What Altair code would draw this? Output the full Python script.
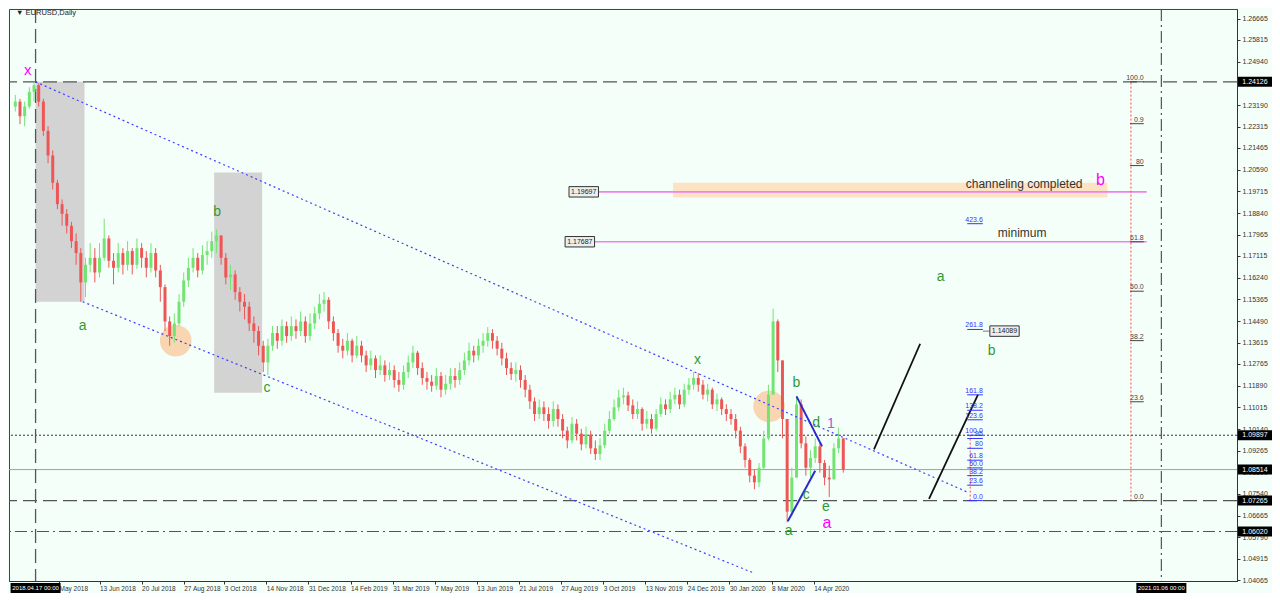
import altair as alt
import pandas as pd

# ---------------- candle data (one candle = 3 trading days, index in bars from 2018.04.17) -------------
first_open = 1.2313
close = [1.2333, 1.2274, 1.2313, 1.2372, 1.2399, 1.2333, 1.2215, 1.2116, 1.2006, 1.1920,
         1.1881, 1.1833, 1.1771, 1.1723, 1.1605, 1.1676, 1.1704, 1.1645, 1.1704, 1.1782,
         1.1692, 1.1664, 1.1723, 1.1676, 1.1731, 1.1676, 1.1743, 1.1704, 1.1664, 1.1723,
         1.1653, 1.1586, 1.1448, 1.1389, 1.1440, 1.1527, 1.1613, 1.1664, 1.1704, 1.1653,
         1.1715, 1.1731, 1.1771, 1.1794, 1.1704, 1.1625, 1.1637, 1.1566, 1.1527, 1.1507,
         1.1440, 1.1409, 1.1350, 1.1283, 1.1350, 1.1401, 1.1370, 1.1429, 1.1389, 1.1429,
         1.1409, 1.1448, 1.1389, 1.1440, 1.1480, 1.1519, 1.1535, 1.1448, 1.1401, 1.1350,
         1.1330, 1.1370, 1.1311, 1.1350, 1.1311, 1.1271, 1.1299, 1.1252, 1.1271, 1.1232,
         1.1252, 1.1212, 1.1193, 1.1244, 1.1283, 1.1322, 1.1260, 1.1220, 1.1205, 1.1189,
         1.1228, 1.1173, 1.1197, 1.1228, 1.1212, 1.1252, 1.1291, 1.1330, 1.1311, 1.1350,
         1.1370, 1.1401, 1.1370, 1.1338, 1.1299, 1.1260, 1.1236, 1.1252, 1.1212, 1.1173,
         1.1126, 1.1075, 1.1102, 1.1075, 1.1047, 1.1095, 1.1055, 1.1008, 1.0969, 1.1036,
         1.0996, 1.0953, 1.0992, 1.0937, 1.0914, 1.0949, 1.1008, 1.1055, 1.1102, 1.1142,
         1.1150, 1.1110, 1.1075, 1.1095, 1.1036, 1.1055, 1.1016, 1.1075, 1.1114, 1.1095,
         1.1134, 1.1153, 1.1114, 1.1173, 1.1193, 1.1220, 1.1193, 1.1153, 1.1173, 1.1114,
         1.1134, 1.1095, 1.1075, 1.1055, 1.1008, 1.0945, 1.0890, 1.0827, 1.0800, 1.0859,
         1.0977, 1.1153, 1.1448, 1.1291, 1.1055, 1.0682, 1.0819, 1.1114, 1.0957, 1.0859,
         1.0898, 1.0945, 1.0878, 1.0819, 1.0812, 1.0937, 1.0977, 1.0851]
high = [1.2360, 1.2344, 1.2333, 1.2391, 1.2413, 1.2407, 1.2344, 1.2234, 1.2136, 1.2018,
        1.1939, 1.1900, 1.1849, 1.1802, 1.1743, 1.1704, 1.1763, 1.1743, 1.1763, 1.1861,
        1.1794, 1.1723, 1.1763, 1.1743, 1.1771, 1.1743, 1.1782, 1.1763, 1.1731, 1.1763,
        1.1743, 1.1676, 1.1597, 1.1468, 1.1480, 1.1558, 1.1645, 1.1704, 1.1743, 1.1723,
        1.1755, 1.1771, 1.1810, 1.1818, 1.1782, 1.1723, 1.1676, 1.1653, 1.1586, 1.1558,
        1.1527, 1.1468, 1.1429, 1.1370, 1.1378, 1.1429, 1.1429, 1.1456, 1.1448, 1.1468,
        1.1456, 1.1488, 1.1468, 1.1480, 1.1507, 1.1558, 1.1566, 1.1546, 1.1468, 1.1417,
        1.1378, 1.1401, 1.1378, 1.1389, 1.1370, 1.1330, 1.1330, 1.1311, 1.1311, 1.1291,
        1.1283, 1.1271, 1.1244, 1.1271, 1.1311, 1.1350, 1.1330, 1.1283, 1.1244, 1.1232,
        1.1260, 1.1244, 1.1232, 1.1260, 1.1260, 1.1283, 1.1322, 1.1362, 1.1350, 1.1378,
        1.1401, 1.1425, 1.1417, 1.1389, 1.1362, 1.1322, 1.1283, 1.1283, 1.1271, 1.1232,
        1.1193, 1.1142, 1.1134, 1.1126, 1.1102, 1.1126, 1.1114, 1.1075, 1.1024, 1.1063,
        1.1055, 1.1016, 1.1024, 1.1008, 1.0969, 1.0977, 1.1036, 1.1087, 1.1134, 1.1173,
        1.1181, 1.1165, 1.1134, 1.1126, 1.1102, 1.1087, 1.1075, 1.1095, 1.1142, 1.1134,
        1.1165, 1.1181, 1.1173, 1.1197, 1.1220, 1.1244, 1.1240, 1.1212, 1.1197, 1.1181,
        1.1157, 1.1142, 1.1114, 1.1095, 1.1075, 1.1024, 1.0957, 1.0898, 1.0851, 1.0878,
        1.1008, 1.1193, 1.1499, 1.1456, 1.1291, 1.1055, 1.0859, 1.1146, 1.1134, 1.0985,
        1.0929, 1.0977, 1.0957, 1.0890, 1.0867, 1.0957, 1.1020, 1.0977]
low = [1.2293, 1.2242, 1.2234, 1.2305, 1.2333, 1.2313, 1.2195, 1.2085, 1.1979, 1.1900,
       1.1833, 1.1802, 1.1743, 1.1676, 1.1527, 1.1546, 1.1645, 1.1605, 1.1625, 1.1692,
       1.1664, 1.1597, 1.1645, 1.1637, 1.1653, 1.1637, 1.1660, 1.1664, 1.1625, 1.1645,
       1.1625, 1.1527, 1.1409, 1.1350, 1.1362, 1.1429, 1.1507, 1.1586, 1.1645, 1.1625,
       1.1637, 1.1676, 1.1704, 1.1723, 1.1676, 1.1597, 1.1574, 1.1535, 1.1488, 1.1456,
       1.1409, 1.1362, 1.1311, 1.1244, 1.1232, 1.1330, 1.1338, 1.1350, 1.1362, 1.1370,
       1.1378, 1.1389, 1.1362, 1.1370, 1.1417, 1.1456, 1.1488, 1.1417, 1.1370, 1.1322,
       1.1299, 1.1311, 1.1283, 1.1299, 1.1283, 1.1244, 1.1252, 1.1220, 1.1232, 1.1205,
       1.1212, 1.1181, 1.1165, 1.1173, 1.1220, 1.1260, 1.1232, 1.1193, 1.1173, 1.1165,
       1.1173, 1.1142, 1.1153, 1.1173, 1.1181, 1.1193, 1.1232, 1.1271, 1.1283, 1.1291,
       1.1322, 1.1346, 1.1338, 1.1311, 1.1271, 1.1232, 1.1212, 1.1205, 1.1181, 1.1142,
       1.1095, 1.1047, 1.1055, 1.1047, 1.1016, 1.1024, 1.1024, 1.0977, 1.0937, 1.0957,
       1.0969, 1.0929, 1.0937, 1.0914, 1.0890, 1.0890, 1.0937, 1.0996, 1.1047, 1.1087,
       1.1114, 1.1087, 1.1055, 1.1055, 1.1008, 1.1016, 1.0996, 1.1008, 1.1063, 1.1071,
       1.1079, 1.1114, 1.1095, 1.1102, 1.1153, 1.1173, 1.1165, 1.1134, 1.1126, 1.1095,
       1.1087, 1.1071, 1.1047, 1.1032, 1.0977, 1.0918, 1.0859, 1.0800, 1.0772, 1.0780,
       1.0851, 1.0969, 1.1153, 1.1244, 1.0977, 1.0639, 1.0662, 1.0819, 1.0937, 1.0827,
       1.0819, 1.0878, 1.0839, 1.0788, 1.0741, 1.0812, 1.0918, 1.0839]
bar_first = -13
bar_step = 3

# ---------------- axes ----------------
y_ticks = [1.26665, 1.25815, 1.24940, 1.24065, 1.23190, 1.22315, 1.21465, 1.20590, 1.19715,
           1.18840, 1.17965, 1.17115, 1.16240, 1.15365, 1.14490, 1.13615, 1.12765, 1.11890,
           1.11015, 1.10140, 1.09265, 1.08390, 1.07540, 1.06665, 1.05790, 1.04915, 1.04065]
x_tick_bars = [15, 41, 68, 95, 121, 148, 175, 202, 229, 256, 283, 310, 337, 364, 391, 418, 445, 472, 499]
x_tick_labels = ["May 2018", "13 Jun 2018", "20 Jul 2018", "27 Aug 2018", "3 Oct 2018", "14 Nov 2018",
                 "31 Dec 2018", "14 Feb 2019", "31 Mar 2019", "7 May 2019", "13 Jun 2019", "21 Jul 2019",
                 "27 Aug 2019", "3 Oct 2019", "13 Nov 2019", "24 Dec 2019", "30 Jan 2020", "8 Mar 2020",
                 "14 Apr 2020"]
x_domain = [-13.84, 767.3]
y_domain = [1.04028, 1.27058]

# highlighted price labels on the axis
hl_prices = [1.24126, 1.09897, 1.08514, 1.07265, 1.06020]
# highlighted dates on the time axis
hl_date_bars = [0, 722]
hl_date_labels = ["2018.04.17 00:00", "2021.01.06 00:00"]

# ---------------- drawn objects ----------------
level_dashed = [1.24126, 1.07265]
level_dashdot = [1.06020]
level_dotted = [1.09897]
level_solid = [1.08514]
vline_dashed = [0]
vline_dashdot = [722]

gray_t0 = [0, 114.5]
gray_t1 = [31.4, 145.3]
gray_p0 = [1.24126, 1.2048]
gray_p1 = [1.1527, 1.1161]

peach_t0 = [408.8]
peach_t1 = [687.4]
peach_p0 = [1.2006]
peach_p1 = [1.1947]

circle_t = [89.9, 470.4]
circle_p = [1.1370, 1.1106]

channel_id = ["upper", "upper", "lower", "lower"]
channel_t = [0, 597.5, 30.2, 461.0]
channel_p = [1.24126, 1.0761, 1.1527, 1.0434]

wave_id = ["bd", "bd", "ac", "ac"]
wave_t = [488.0, 504.4, 482.4, 500.0]
wave_p = [1.1146, 1.0945, 1.0643, 1.0847]

proj_id = ["p1", "p1", "p2", "p2"]
proj_t = [537.7, 567.3, 573.0, 604.4]
proj_p = [1.0933, 1.1358, 1.0733, 1.1153]

mag_t0 = [361.0, 358.5]
mag_t1 = [712.6, 712.6]
mag_p = [1.19697, 1.17687]

pbox_text = ["1.19697", "1.17687", "1.14089"]
pbox_t0 = [342.1, 339.6, 612.0]
pbox_t1 = [361.0, 358.5, 630.8]
pbox_p = [1.19697, 1.17687, 1.14089]

# Fibonacci retracement (grey labels)
fib_lo, fib_hi = 1.07265, 1.24126
fib_levels = [0, 23.6, 38.2, 50, 61.8, 80, 90, 100]
fib_labels = ["0.0", "23.6", "38.2", "50.0", "61.8", "80", "0.9", "100.0"]
fib_t0, fib_t1, fib_vline_t = 701.9, 710.7, 702.5

# Fibonacci expansion (blue labels)
fe_lo, fe_hi = 1.07265, 1.09897
fe_levels = [0, 23.6, 38.2, 50, 61.8, 80, 95, 100, 123.6, 138.2, 161.8, 261.8, 423.6]
fe_labels = ["0.0", "23.6", "38.2", "50.0", "61.8", "80", "95", "100.0", "123.6", "138.2", "161.8",
             "261.8", "423.6"]
fe_t0, fe_t1, fe_vline_t = 597.5, 607.5, 599.4

# wave labels
lab_text = ["x", "a", "b", "c", "x", "b", "d", "c", "e", "a", "1", "a", "a", "b",
            "channeling completed", "b", "minimum"]
lab_t = [-5.0, 30.2, 116.4, 148.4, 424.5, 488.0, 500.6, 494.3, 506.9, 483.0, 510.0, 507.5,
         580.5, 613.2, 634.0, 683.0, 632.7]
lab_p = [1.2462, 1.1429, 1.1888, 1.1181, 1.1291, 1.1201, 1.1040, 1.0749, 1.0700, 1.0603,
         1.1036, 1.0638, 1.1625, 1.1330, 1.2002, 1.2018, 1.1802]
lab_color = ["#ff00ff", "#339933", "#339933", "#339933", "#339933", "#339933", "#339933",
             "#339933", "#339933", "#339933", "#9966cc", "#ff00ff", "#339933", "#339933",
             "#333333", "#ff00ff", "#333333"]
lab_size = [15, 14, 14, 14, 14, 14, 14, 14, 14, 14, 14, 16, 14, 14, 12, 16, 12]

# ---------------- build tables ----------------
W, H = 1228, 572
FONT = "Liberation Sans"

n = len(close)
t = [bar_first + bar_step * i for i in range(n)]
opens = [first_open] + close[:-1]
candles = pd.DataFrame({"t": t, "o": opens, "c": close, "h": high, "l": low})
candles["h"] = candles[["h", "o", "c"]].max(axis=1)
candles["l"] = candles[["l", "o", "c"]].min(axis=1)
candles["dir"] = ["up" if c >= o else "down" for o, c in zip(opens, close)]

xs = alt.Scale(domain=x_domain, nice=False, zero=False)
ys = alt.Scale(domain=y_domain, nice=False, zero=False)
label_expr = " : ".join(f"datum.value == {b} ? '{l}'" for b, l in zip(x_tick_bars, x_tick_labels)) + " : ''"
xaxis = alt.Axis(values=x_tick_bars, labelExpr=label_expr, labelAlign="left", labelFontSize=6.5,
                 labelFont=FONT, labelColor="#333333", tickSize=3, labelPadding=1, grid=False,
                 domainColor="#333333", tickColor="#333333", labelOverlap=False, labelBound=False,
                 labelFlush=False, title=None)
yaxis = alt.Axis(orient="right", values=y_ticks, format=".5f", labelFontSize=7, labelFont=FONT,
                 labelColor="#333333", tickSize=3, labelPadding=2, grid=False, domainColor="#333333",
                 tickColor="#333333", labelOverlap=False, labelBound=False, title=None)


def X(f="t"):
    return alt.X(f"{f}:Q", scale=xs, axis=xaxis)


def Y(f="p"):
    return alt.Y(f"{f}:Q", scale=ys, axis=yaxis)


layers = []

gray = pd.DataFrame({"t": gray_t0, "t2": gray_t1, "p": gray_p0, "p2": gray_p1})
layers.append(alt.Chart(gray).mark_rect(color="#d3d3d3").encode(
    x=X(), x2="t2:Q", y=Y(), y2="p2:Q"))

peach = pd.DataFrame({"t": peach_t0, "t2": peach_t1, "p": peach_p0, "p2": peach_p1})
layers.append(alt.Chart(peach).mark_rect(color="#fde2c4").encode(
    x=X(), x2="t2:Q", y=Y(), y2="p2:Q"))

circ = pd.DataFrame({"t": circle_t, "p": circle_p})
layers.append(alt.Chart(circ).mark_circle(color="#f7c08a", opacity=0.65, size=1000).encode(
    x=X(), y=Y()))


def hrules(vals, **kw):
    return alt.Chart(pd.DataFrame({"p": vals})).mark_rule(**kw).encode(y=Y())


def vrules(vals, **kw):
    return alt.Chart(pd.DataFrame({"t": vals})).mark_rule(**kw).encode(x=X())


layers.append(hrules(level_solid, color="#a0a0a0", strokeWidth=1))
layers.append(hrules(level_dashed, color="#555555", strokeWidth=1.3, strokeDash=[14, 6]))
layers.append(hrules(level_dashdot, color="#555555", strokeWidth=1.2, strokeDash=[12, 4, 2, 4]))
layers.append(hrules(level_dotted, color="#333333", strokeWidth=1, strokeDash=[2, 2]))
layers.append(vrules(vline_dashed, color="#555555", strokeWidth=1.3, strokeDash=[14, 6]))
layers.append(vrules(vline_dashdot, color="#555555", strokeWidth=1.2, strokeDash=[12, 4, 2, 4]))

color_scale = alt.Scale(domain=["up", "down"], range=["#72e472", "#ee5656"])
base_c = alt.Chart(candles)
layers.append(base_c.mark_rule(strokeWidth=1).encode(
    x=X(), y=Y("l"), y2="h:Q", color=alt.Color("dir:N", scale=color_scale, legend=None)))
layers.append(base_c.mark_bar(size=3).encode(
    x=X(), y=Y("o"), y2="c:Q", color=alt.Color("dir:N", scale=color_scale, legend=None)))

chan = pd.DataFrame({"id": channel_id, "t": channel_t, "p": channel_p})
layers.append(alt.Chart(chan).mark_line(color="#3f3fff", strokeWidth=1.2, strokeDash=[2, 3]).encode(
    x=X(), y=Y(), detail="id:N"))
wave = pd.DataFrame({"id": wave_id, "t": wave_t, "p": wave_p})
layers.append(alt.Chart(wave).mark_line(color="#2a2acc", strokeWidth=2).encode(
    x=X(), y=Y(), detail="id:N"))
proj = pd.DataFrame({"id": proj_id, "t": proj_t, "p": proj_p})
layers.append(alt.Chart(proj).mark_line(color="#111111", strokeWidth=1.8).encode(
    x=X(), y=Y(), detail="id:N"))

mag = pd.DataFrame({"t": mag_t0, "t2": mag_t1, "p": mag_p})
layers.append(alt.Chart(mag).mark_rule(color="#ee82ee", strokeWidth=1.6).encode(
    x=X(), x2="t2:Q", y=Y()))

# fib retracement
fib = pd.DataFrame({"lvl": fib_levels, "txt": fib_labels})
fib["p"] = fib_lo + fib["lvl"] / 100 * (fib_hi - fib_lo)
fib["t"] = fib_t0
fib["t2"] = fib_t1
layers.append(alt.Chart(pd.DataFrame({"t": [fib_vline_t], "p": [fib_lo], "p2": [fib_hi]}))
              .mark_rule(color="#ff4444", strokeDash=[2, 2], strokeWidth=1).encode(x=X(), y=Y(), y2="p2:Q"))
layers.append(alt.Chart(fib).mark_rule(color="#444444", strokeWidth=1).encode(x=X(), x2="t2:Q", y=Y()))
layers.append(alt.Chart(fib).mark_text(align="right", baseline="bottom", dy=-1, fontSize=7, font=FONT,
                                       color="#444444").encode(x=X("t2"), y=Y(), text="txt:N"))

# fib expansion
fe = pd.DataFrame({"lvl": fe_levels, "txt": fe_labels})
fe["p"] = fe_lo + fe["lvl"] / 100 * (fe_hi - fe_lo)
fe["t"] = fe_t0
fe["t2"] = fe_t1
layers.append(alt.Chart(pd.DataFrame({"t": [fe_vline_t], "p": [fe_lo], "p2": [fe_hi]}))
              .mark_rule(color="#ff4444", strokeDash=[2, 2], strokeWidth=1).encode(x=X(), y=Y(), y2="p2:Q"))
layers.append(alt.Chart(fe).mark_rule(color="#3333ff", strokeWidth=1).encode(x=X(), x2="t2:Q", y=Y()))
layers.append(alt.Chart(fe).mark_text(align="right", baseline="bottom", dy=-1, fontSize=7, font=FONT,
                                      color="#3333ff").encode(x=X("t2"), y=Y(), text="txt:N"))

# small price boxes
pb = pd.DataFrame({"txt": pbox_text, "t": pbox_t0, "t2": pbox_t1, "p": pbox_p})
pb["top"] = pb["p"] + 0.0021
pb["bot"] = pb["p"] - 0.0021
pb["tm"] = (pb["t"] + pb["t2"]) / 2
layers.append(alt.Chart(pd.DataFrame({"t": [607.5], "t2": [612.0], "p": [1.14089]}))
              .mark_rule(color="#777777", strokeWidth=1).encode(x=X(), x2="t2:Q", y=Y()))
layers.append(alt.Chart(pb).mark_rect(fill="#eeeeee", stroke="#333333", strokeWidth=1).encode(
    x=X(), x2="t2:Q", y=Y("top"), y2="bot:Q"))
layers.append(alt.Chart(pb).mark_text(fontSize=7, font=FONT, color="#222222").encode(
    x=X("tm"), y=Y(), text="txt:N"))

# wave labels
labs = pd.DataFrame({"txt": lab_text, "t": lab_t, "p": lab_p, "col": lab_color, "sz": lab_size})
layers.append(alt.Chart(labs).mark_text(font=FONT).encode(
    x=X(), y=Y(), text="txt:N", color=alt.Color("col:N", scale=None),
    size=alt.Size("sz:Q", scale=None)))

# title
layers.append(alt.Chart(pd.DataFrame({"t": [-12.5], "p": [1.2690], "txt": ["\u25bc EURUSD,Daily"]}))
              .mark_text(align="left", fontSize=7.5, font=FONT, color="#222222").encode(
    x=X(), y=Y(), text="txt:N"))

# highlighted axis labels
hl = pd.DataFrame({"p": hl_prices, "txt": [f"{v:.5f}" for v in hl_prices]})
layers.append(alt.Chart(hl).mark_tick(orient="horizontal", size=34, thickness=10, color="#000000",
                                      opacity=1).encode(x=alt.value(W + 18), y=Y()))
layers.append(alt.Chart(hl).mark_text(fontSize=7, font=FONT, color="#ffffff").encode(
    x=alt.value(W + 18), y=Y(), text="txt:N"))
hd = pd.DataFrame({"t": hl_date_bars, "txt": hl_date_labels})
layers.append(alt.Chart(hd).mark_tick(orient="horizontal", size=50, thickness=10, color="#000000",
                                      opacity=1).encode(x=X(), y=alt.value(H + 7)))
layers.append(alt.Chart(hd).mark_text(fontSize=6, font=FONT, color="#ffffff").encode(
    x=X(), y=alt.value(H + 7), text="txt:N"))

chart = alt.layer(*layers).properties(width=W, height=H, padding=0).configure(
    background="#f5fffa").configure_view(fill="#f5fffa", stroke="#444444", strokeWidth=1)

chart.save("out.html", embed_options={"renderer": "svg", "actions": False})
